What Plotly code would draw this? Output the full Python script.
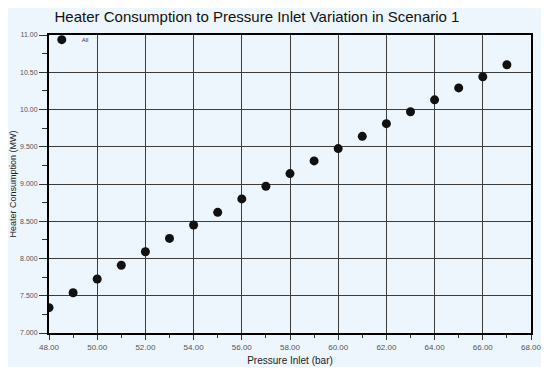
import plotly.graph_objects as go

pressure = [48, 49, 50, 51, 52, 53, 54, 55, 56, 57, 58, 59, 60, 61, 62, 63, 64, 65, 66, 67]
consumption = [7.34, 7.54, 7.725, 7.91, 8.09, 8.27, 8.45, 8.62, 8.80, 8.97, 9.14,
               9.31, 9.475, 9.64, 9.81, 9.97, 10.13, 10.29, 10.44, 10.60]
series_name = "All"

x_tickvals = [48, 50, 52, 54, 56, 58, 60, 62, 64, 66, 68]
x_ticktext = ["48.00", "50.00", "52.00", "54.00", "56.00", "58.00", "60.00",
              "62.00", "64.00", "66.00", "68.00"]
y_tickvals = [7.0, 7.5, 8.0, 8.5, 9.0, 9.5, 10.0, 10.5, 11.0]
y_ticktext = ["7.000", "7.500", "8.000", "8.500", "9.000", "9.500", "10.00", "10.50", "11.00"]

BG = "#eef6fd"
FONT = "Liberation Sans, Arial, sans-serif"

fig = go.Figure()
fig.add_trace(go.Scatter(
    x=pressure, y=consumption, mode="markers", name=series_name,
    marker=dict(color="#111111", size=9, line=dict(width=0)),
))

# page body has an 8px margin; compensate so the plot lands at the target pixels
OFF = 8
L, R, T, B = 49 - OFF, 19, 35 - OFF, 40
W, H = 550 - OFF, 373 - OFF
pw, ph = W - L - R, H - T - B
bottom = H - B

fig.add_shape(type="rect", xref="paper", yref="paper",
              x0=(3 - OFF - L) / pw, x1=(541 - OFF - L) / pw,
              y0=(bottom - (367 - OFF)) / ph, y1=(bottom - (3 - OFF)) / ph,
              fillcolor=BG, line=dict(width=0), layer="below")

fig.update_layout(
    width=W, height=H,
    margin=dict(l=L, r=R, t=T, b=B, autoexpand=False),
    paper_bgcolor="white", plot_bgcolor=BG,
    font=dict(family=FONT, color="#333333"),
    title=dict(text="Heater Consumption to Pressure Inlet Variation in Scenario 1",
               x=(257 - OFF) / W, xanchor="center", y=1 - (17 - OFF) / H, yanchor="middle",
               font=dict(size=15, color="#111111", family=FONT)),
    showlegend=True,
    legend=dict(x=-0.015, y=1.033, xanchor="left", yanchor="top",
                bgcolor="rgba(0,0,0,0)", font=dict(size=6, color="#333333"),
                itemwidth=30),
    xaxis=dict(range=[48, 68], tickvals=x_tickvals, ticktext=x_ticktext,
               automargin=False,
               showgrid=True, gridcolor="#3c3c3c", gridwidth=1,
               showline=True, linecolor="black", linewidth=2, mirror=True,
               ticks="outside", ticklen=5, tickcolor="#333333",
               minor=dict(tickvals=[49, 51, 53, 55, 57, 59, 61, 63, 65, 67],
                          ticks="outside", ticklen=3, tickcolor="#333333", showgrid=False),
               tickfont=dict(size=8, color="#555555"),
               title=dict(text="Pressure Inlet (bar)", font=dict(size=10, color="#222222"),
                          standoff=6),
               zeroline=False),
    yaxis=dict(range=[7, 11], tickvals=y_tickvals, ticktext=y_ticktext,
               automargin=False,
               showgrid=True, gridcolor="#3c3c3c", gridwidth=1,
               showline=True, linecolor="black", linewidth=2, mirror=True,
               ticks="outside", ticklen=8, tickcolor="#333333",
               minor=dict(dtick=0.25, ticks="outside", ticklen=5, tickcolor="#333333",
                          showgrid=False),
               tickfont=dict(size=7, color="#555555"),
               title=dict(text="Heater Consumption (MW)", font=dict(size=9, color="#222222"),
                          standoff=4),
               zeroline=False),
)

fig.write_html("out.html")
